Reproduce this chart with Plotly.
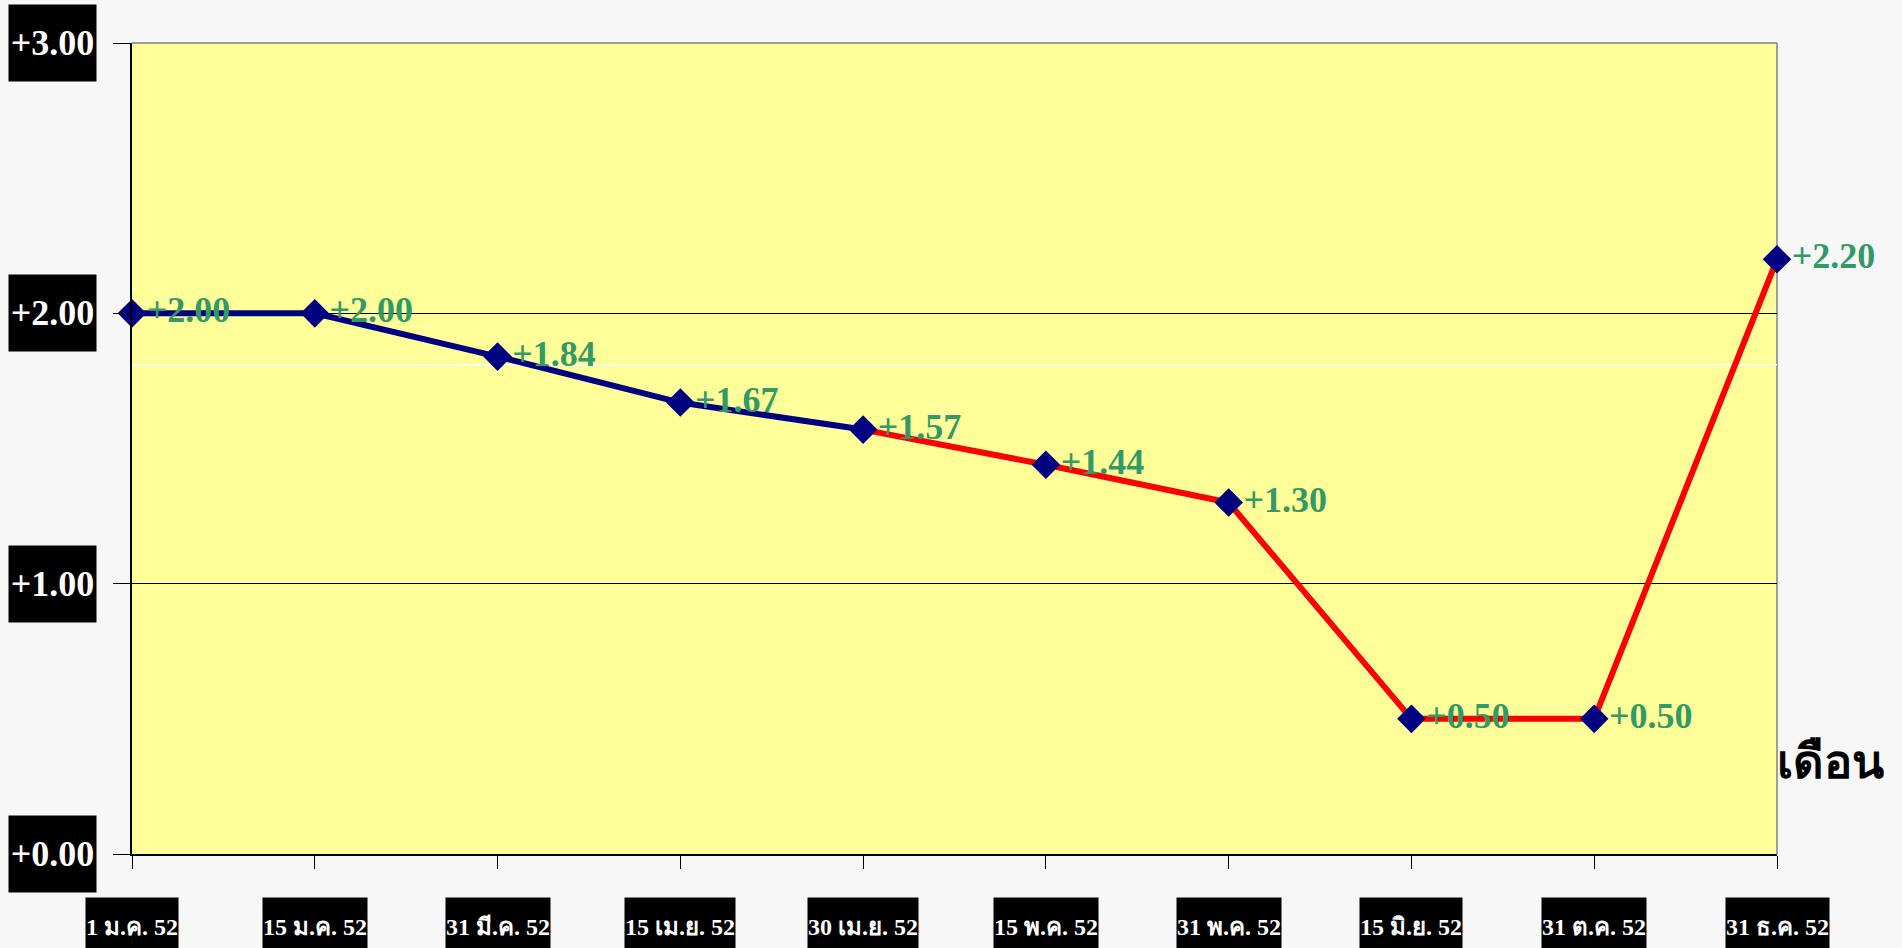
import plotly.graph_objects as go

categories = ["1 ม.ค. 52", "15 ม.ค. 52", "31 มี.ค. 52", "15 เม.ย. 52", "30 เม.ย. 52",
              "15 พ.ค. 52", "31 พ.ค. 52", "15 มิ.ย. 52", "31 ต.ค. 52", "31 ธ.ค. 52"]
values = [2.00, 2.00, 1.84, 1.67, 1.57, 1.44, 1.30, 0.50, 0.50, 2.20]
labels = ["+2.00", "+2.00", "+1.84", "+1.67", "+1.57", "+1.44", "+1.30", "+0.50", "+0.50", "+2.20"]
y_ticks = [0, 1, 2, 3]
y_ticktext = ["+0.00", "+1.00", "+2.00", "+3.00"]
split_index = 4  # colour changes from navy to red at "30 เม.ย. 52"
x_title = "เดือน"

xs = list(range(len(categories)))
serif = "Liberation Serif, Times New Roman, serif"

fig = go.Figure()
fig.add_trace(go.Scatter(x=xs[:split_index + 1], y=values[:split_index + 1], mode="lines",
                         line=dict(color="#000080", width=6), cliponaxis=False, hoverinfo="skip"))
fig.add_trace(go.Scatter(x=xs[split_index:], y=values[split_index:], mode="lines",
                         line=dict(color="#FF0000", width=6), cliponaxis=False, hoverinfo="skip"))
fig.add_trace(go.Scatter(x=xs, y=values, mode="markers+text", text=labels,
                         textposition="middle right",
                         textfont=dict(family=serif, size=36, color="#339966", weight="bold"),
                         marker=dict(symbol="diamond", size=22, color="#000080"),
                         cliponaxis=False))

annotations = []
for v, t in zip(y_ticks, y_ticktext):
    annotations.append(dict(x=0, xref="paper", xanchor="center", xshift=-80, y=v, yref="y",
                            text=t, showarrow=False, bgcolor="black", width=85, height=74,
                            font=dict(family=serif, size=36, color="white", weight="bold")))
for i, c in enumerate(categories):
    annotations.append(dict(x=xs[i], xref="x", y=0, yref="paper", yshift=-73, yanchor="middle",
                            text=c, showarrow=False, bgcolor="black", height=58, borderpad=0,
                            font=dict(family=serif, size=24, color="white", weight="bold")))
annotations.append(dict(x=1, xref="paper", xanchor="left", xshift=-2, y=0.116, yref="paper",
                        yanchor="middle", text=x_title, showarrow=False,
                        font=dict(family="Noto Sans, DejaVu Sans, sans-serif", size=47,
                                  color="black", weight="bold")))

shapes = [
    dict(type="line", xref="x", yref="y", x0=0, x1=9, y0=1.81, y1=1.81,
         line=dict(color="white", width=1.5), layer="below"),
    dict(type="line", xref="paper", yref="paper", x0=0, x1=1, y0=1, y1=1,
         line=dict(color="#808080", width=1.5)),
    dict(type="line", xref="paper", yref="paper", x0=1, x1=1, y0=0, y1=1,
         line=dict(color="#808080", width=1.5), layer="below"),
]

fig.update_layout(
    width=1902, height=948,
    margin=dict(l=132, r=125, t=43, b=94),
    paper_bgcolor="#f7f7f7", plot_bgcolor="#FFFF99",
    showlegend=False,
    annotations=annotations, shapes=shapes,
    xaxis=dict(range=[0, 9], tickvals=xs, showticklabels=False, ticks="outside", ticklen=13,
               tickcolor="black", showgrid=False, zeroline=False, showline=True,
               linecolor="black", linewidth=1.5, fixedrange=True),
    yaxis=dict(range=[0, 3], tickvals=y_ticks, showticklabels=False, ticks="outside", ticklen=17,
               tickcolor="black", showgrid=True, gridcolor="black", gridwidth=1, zeroline=False,
               showline=True, linecolor="black", linewidth=1.5, fixedrange=True),
)

fig.write_html("out.html",
               config={"displayModeBar": False},
               post_script="document.body.style.margin='0';"
                           "document.body.style.background='#f7f7f7';"
                           "document.body.style.overflow='hidden';")
